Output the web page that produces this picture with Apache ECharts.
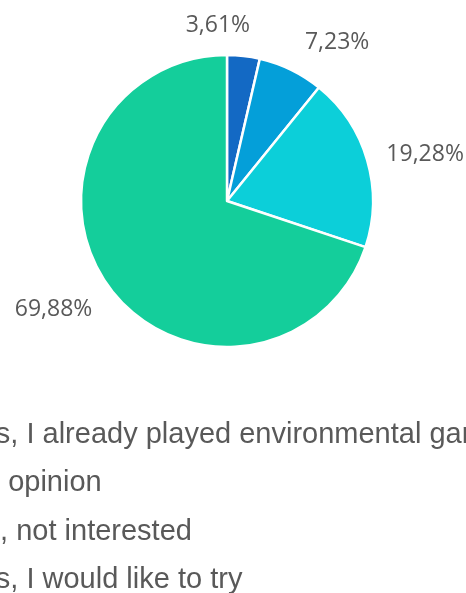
<!DOCTYPE html>
<html>
<head>
<meta charset="utf-8">
<style>
  html, body { margin: 0; padding: 0; background: #ffffff; }
  #chart { width: 466px; height: 593px; }
</style>
<script src="https://cdn.jsdelivr.net/npm/echarts@6/dist/echarts.min.js"></script>
</head>
<body>
<div id="chart"></div>
<script>
// Survey answers and their shares (percent)
const categories = [
  'Yes, I already played environmental games',
  'No opinion',
  'No, not interested',
  'Yes, I would like to try'
];
const shares = [3.61, 7.23, 19.28, 69.88];
const colors = ['#1369C4', '#049FD9', '#0CCFD9', '#14CE9B'];

const CENTER = [227, 201];
const RADIUS = 146;
const LABEL_GAP = 20;

// How each value label hangs off its anchor point on the slice bisector
const labelAnchors = [
  { align: 'right', verticalAlign: 'bottom', turn: 1.5 },
  { align: 'left', verticalAlign: 'bottom', turn: 2 },
  { align: 'left', verticalAlign: 'middle', turn: 0 },
  { align: 'right', verticalAlign: 'top', turn: 0 }
];

const total = shares.reduce((a, b) => a + b, 0);
const midAngles = [];
let acc = 0;
shares.forEach(v => {
  midAngles.push((acc + v / 2) / total * 360);
  acc += v;
});

const chart = echarts.init(document.getElementById('chart'), null, { renderer: 'canvas' });

chart.setOption({
  animation: false,
  color: colors,
  legend: {
    orient: 'vertical',
    left: -62,
    top: 415,
    height: 400,
    itemWidth: 14,
    itemHeight: 14,
    itemGap: 19.5,
    icon: 'rect',
    data: categories,
    textStyle: {
      fontFamily: '"Liberation Sans", Arial, sans-serif',
      fontSize: 29,
      color: '#595959'
    }
  },
  series: [{
    type: 'pie',
    center: CENTER,
    radius: RADIUS,
    startAngle: 90,
    clockwise: true,
    avoidLabelOverlap: false,
    itemStyle: { borderColor: '#ffffff', borderWidth: 2.5 },
    label: {
      show: true,
      position: 'outside',
      formatter: p => p.value.toFixed(2).replace('.', ',') + '%',
      fontFamily: '"Open Sans", sans-serif',
      fontSize: 23,
      color: '#595959'
    },
    labelLine: { show: false },
    labelLayout: params => {
      const i = params.dataIndex;
      const a = (midAngles[i] + labelAnchors[i].turn) * Math.PI / 180;
      const r = RADIUS + LABEL_GAP;
      return {
        x: CENTER[0] + r * Math.sin(a),
        y: CENTER[1] - r * Math.cos(a),
        align: labelAnchors[i].align,
        verticalAlign: labelAnchors[i].verticalAlign
      };
    },
    emphasis: { disabled: true },
    data: categories.map((name, i) => ({ name, value: shares[i] }))
  }]
});
</script>
</body>
</html>
